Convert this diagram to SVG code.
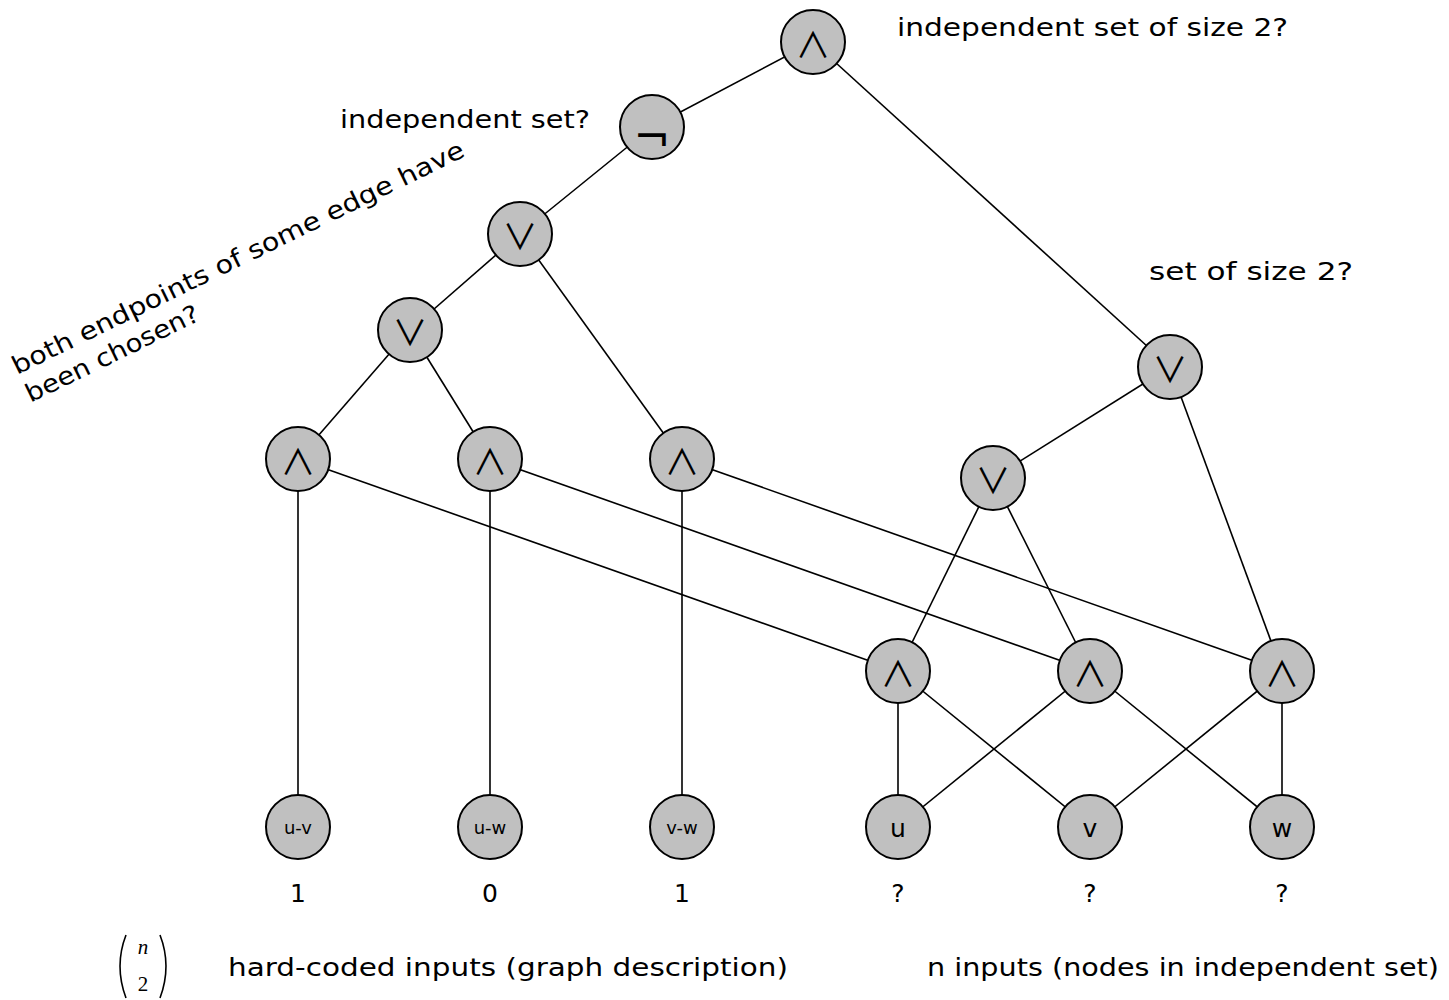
<svg xmlns="http://www.w3.org/2000/svg" width="1449" height="1000" viewBox="0 0 1449 1000">
<style>
.e{stroke:#000;stroke-width:1.6;fill:none}
.n circle{fill:#c0c0c0;stroke:#000;stroke-width:2}
.g{font-family:"Noto Sans CJK SC","DejaVu Sans",sans-serif;font-size:35px;text-anchor:middle;fill:#000}
.ng{font-family:"DejaVu Sans",sans-serif;font-size:44px;text-anchor:middle;fill:#000}
.s{font-family:"DejaVu Sans",sans-serif;font-size:18px;text-anchor:middle;fill:#000}
.b{font-family:"DejaVu Sans",sans-serif;font-size:25px;text-anchor:middle;fill:#000}
.t{font-family:"DejaVu Sans",sans-serif;font-size:25px;fill:#000}
.m{font-family:"Liberation Serif",serif;font-size:21px;text-anchor:middle;fill:#000}
</style>
<rect width="1449" height="1000" fill="#fff"/>
<g id="connectors">
<line class="e" x1="813" y1="42" x2="652" y2="127"/>
<line class="e" x1="813" y1="42" x2="1170" y2="367"/>
<line class="e" x1="652" y1="127" x2="520" y2="234"/>
<line class="e" x1="520" y1="234" x2="410" y2="330"/>
<line class="e" x1="520" y1="234" x2="682" y2="459"/>
<line class="e" x1="410" y1="330" x2="298" y2="459"/>
<line class="e" x1="410" y1="330" x2="490" y2="459"/>
<line class="e" x1="298" y1="459" x2="298" y2="827"/>
<line class="e" x1="490" y1="459" x2="490" y2="827"/>
<line class="e" x1="682" y1="459" x2="682" y2="827"/>
<line class="e" x1="298" y1="459" x2="898" y2="671"/>
<line class="e" x1="490" y1="459" x2="1090" y2="671"/>
<line class="e" x1="682" y1="459" x2="1282" y2="671"/>
<line class="e" x1="1170" y1="367" x2="993" y2="478"/>
<line class="e" x1="1170" y1="367" x2="1282" y2="671"/>
<line class="e" x1="993" y1="478" x2="898" y2="671"/>
<line class="e" x1="993" y1="478" x2="1090" y2="671"/>
<line class="e" x1="898" y1="671" x2="898" y2="827"/>
<line class="e" x1="898" y1="671" x2="1090" y2="827"/>
<line class="e" x1="1090" y1="671" x2="898" y2="827"/>
<line class="e" x1="1090" y1="671" x2="1282" y2="827"/>
<line class="e" x1="1282" y1="671" x2="1090" y2="827"/>
<line class="e" x1="1282" y1="671" x2="1282" y2="827"/>
</g>
<g id="and-top" class="n"><circle cx="813" cy="42" r="32"/><text class="g" x="813" y="58">∧</text></g>
<g id="not" class="n"><circle cx="652" cy="127" r="32"/><text class="ng" x="652" y="152">¬</text></g>
<g id="or1" class="n"><circle cx="520" cy="234" r="32"/><text class="g" x="520" y="250">∨</text></g>
<g id="or2" class="n"><circle cx="410" cy="330" r="32"/><text class="g" x="410" y="346">∨</text></g>
<g id="and-uv" class="n"><circle cx="298" cy="459" r="32"/><text class="g" x="298" y="475">∧</text></g>
<g id="and-uw" class="n"><circle cx="490" cy="459" r="32"/><text class="g" x="490" y="475">∧</text></g>
<g id="and-vw" class="n"><circle cx="682" cy="459" r="32"/><text class="g" x="682" y="475">∧</text></g>
<g id="or-right" class="n"><circle cx="1170" cy="367" r="32"/><text class="g" x="1170" y="383">∨</text></g>
<g id="or-mid" class="n"><circle cx="993" cy="478" r="32"/><text class="g" x="993" y="494">∨</text></g>
<g id="and-u-v" class="n"><circle cx="898" cy="671" r="32"/><text class="g" x="898" y="687">∧</text></g>
<g id="and-u-w" class="n"><circle cx="1090" cy="671" r="32"/><text class="g" x="1090" y="687">∧</text></g>
<g id="and-v-w" class="n"><circle cx="1282" cy="671" r="32"/><text class="g" x="1282" y="687">∧</text></g>
<g id="in-uv" class="n"><circle cx="298" cy="827" r="32"/><text class="s" x="298" y="834">u-v</text></g>
<g id="in-uw" class="n"><circle cx="490" cy="827" r="32"/><text class="s" x="490" y="834">u-w</text></g>
<g id="in-vw" class="n"><circle cx="682" cy="827" r="32"/><text class="s" x="682" y="834">v-w</text></g>
<g id="in-u" class="n"><circle cx="898" cy="827" r="32"/><text class="b" x="898" y="837">u</text></g>
<g id="in-v" class="n"><circle cx="1090" cy="827" r="32"/><text class="b" x="1090" y="837">v</text></g>
<g id="in-w" class="n"><circle cx="1282" cy="827" r="32"/><text class="b" x="1282" y="837">w</text></g>
<g id="labels">
<text class="t" x="897" y="36" textLength="391" lengthAdjust="spacingAndGlyphs">independent set of size 2?</text>
<text class="t" x="340" y="128" textLength="250" lengthAdjust="spacingAndGlyphs">independent set?</text>
<text class="t" x="1149" y="280" textLength="204" lengthAdjust="spacingAndGlyphs">set of size 2?</text>
<text class="t" transform="translate(17,375) rotate(-26)"><tspan x="0" y="0" textLength="500" lengthAdjust="spacingAndGlyphs">both endpoints of some edge have</tspan><tspan x="0" y="31" textLength="190" lengthAdjust="spacingAndGlyphs">been chosen?</tspan></text>
<text class="b" x="298" y="902">1</text>
<text class="b" x="490" y="902">0</text>
<text class="b" x="682" y="902">1</text>
<text class="b" x="898" y="902">?</text>
<text class="b" x="1090" y="902">?</text>
<text class="b" x="1282" y="902">?</text>
<text class="t" x="228" y="976" textLength="560" lengthAdjust="spacingAndGlyphs">hard-coded inputs (graph description)</text>
<text class="t" x="927" y="976" textLength="512" lengthAdjust="spacingAndGlyphs">n inputs (nodes in independent set)</text>
</g>
<g id="binomial">
<path class="e" d="M126,935 Q114,966 126,998"/>
<path class="e" d="M160,935 Q172,966 160,998"/>
<text class="m" x="143" y="954" style="font-style:italic">n</text>
<text class="m" x="143" y="991">2</text>
</g>
</svg>
